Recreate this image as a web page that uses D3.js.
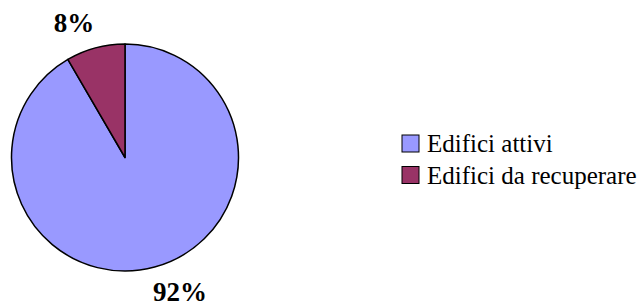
<!DOCTYPE html>
<html>
<head>
<meta charset="utf-8">
<script src="https://cdn.jsdelivr.net/npm/d3@7"></script>
<style>
  body { margin: 0; background: #fff; }
</style>
</head>
<body>
<div id="chart"></div>
<script>
(function () {
    var categories = ["Edifici attivi", "Edifici da recuperare"];
    var values = [91.6, 8.4];
    var colors = ["#9999FF", "#993366"];

    var width = 643, height = 305;
    var cx = 125, cy = 157.5, r = 113.5;
    var serif = "'Liberation Serif', 'Times New Roman', Times, 'DejaVu Serif', serif";

    var svg = d3.select("#chart")
        .append("svg")
        .attr("width", width)
        .attr("height", height)
        .style("font-family", serif);

    var data = categories.map(function (c, i) {
        return { name: c, value: values[i], color: colors[i] };
    });

    var total = d3.sum(values);

    var pie = d3.pie()
        .sort(null)
        .value(function (d) { return d.value; });

    var arc = d3.arc().innerRadius(0).outerRadius(r);

    var g = svg.append("g").attr("transform", "translate(" + cx + "," + cy + ")");

    var arcs = pie(data);

    g.selectAll("path")
        .data(arcs)
        .enter()
        .append("path")
        .attr("d", arc)
        .attr("fill", function (d) { return d.data.color; })
        .attr("stroke", "#000")
        .attr("stroke-width", 1.5)
        .attr("stroke-linejoin", "round");

    // percentage labels outside the pie
    var labelPos = [[55, 143], [-51, -126]];
    g.selectAll("text.pct")
        .data(arcs)
        .enter()
        .append("text")
        .attr("class", "pct")
        .attr("x", function (d, i) { return labelPos[i][0]; })
        .attr("y", function (d, i) { return labelPos[i][1]; })
        .attr("text-anchor", "middle")
        .attr("font-family", serif)
        .attr("font-size", 27)
        .attr("font-weight", "bold")
        .text(function (d) { return Math.round(d.data.value / total * 100) + "%"; });

    // legend
    var legend = svg.append("g").attr("transform", "translate(402,135)");
    var item = legend.selectAll("g")
        .data(data)
        .enter()
        .append("g")
        .attr("transform", function (d, i) { return "translate(0," + (i * 31.5) + ")"; });

    item.append("rect")
        .attr("width", 17)
        .attr("height", 17)
        .attr("fill", function (d) { return d.color; })
        .attr("stroke", "#000")
        .attr("stroke-width", 1);

    item.append("text")
        .attr("x", 25)
        .attr("y", 17)
        .attr("font-family", serif)
        .attr("font-size", 25)
        .text(function (d) { return d.name; });
})();
</script>
</body>
</html>
